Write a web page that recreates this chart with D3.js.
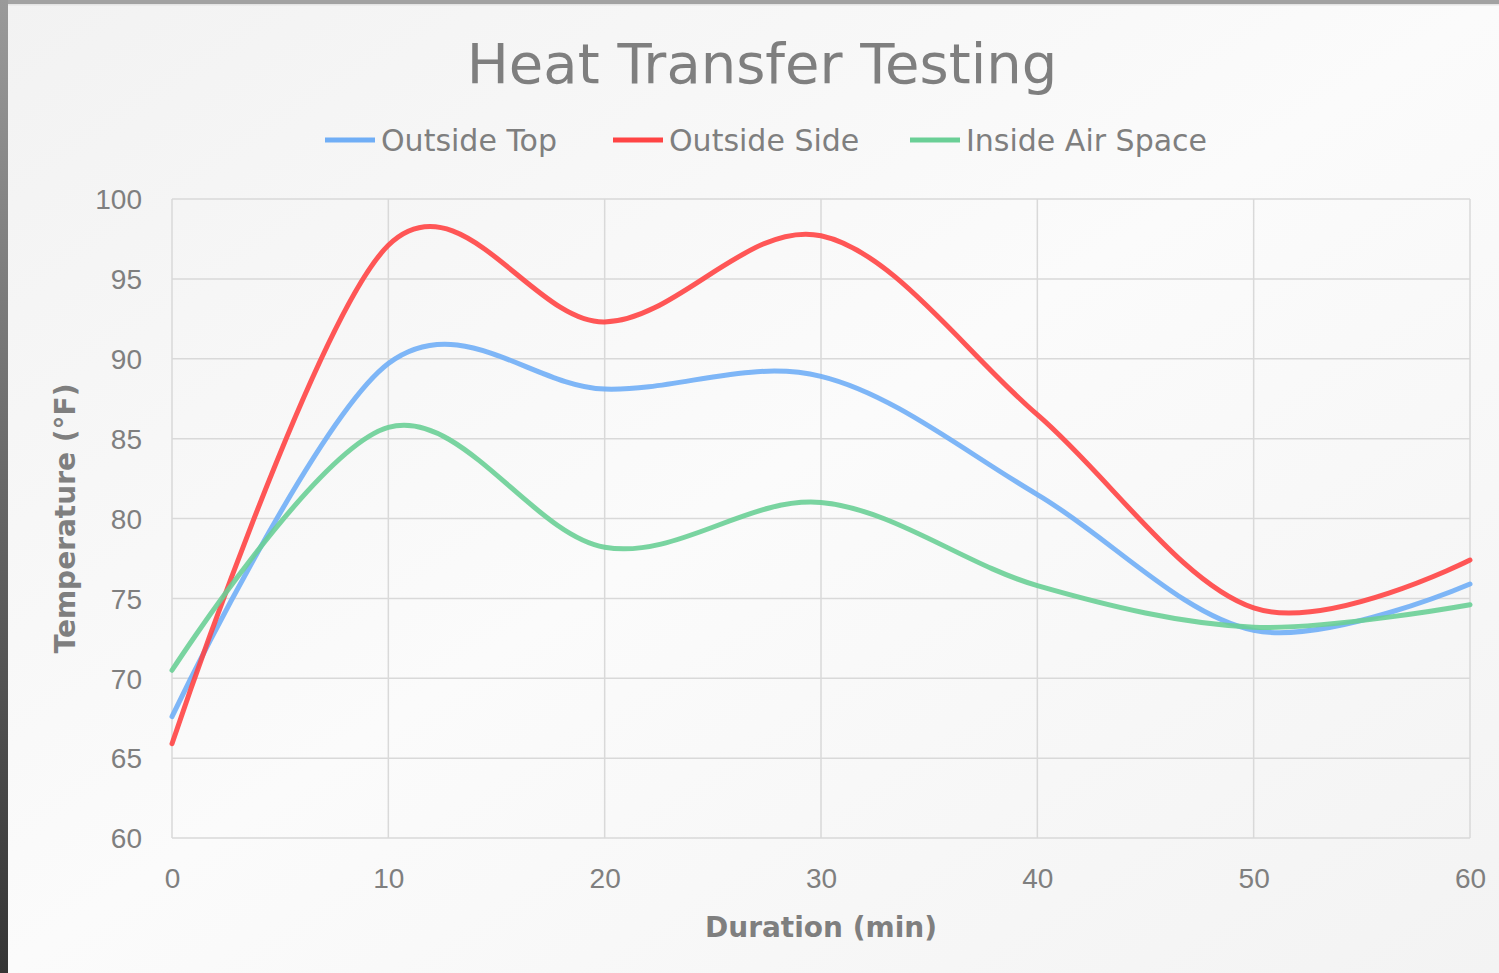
<!DOCTYPE html>
<html>
<head>
<meta charset="utf-8">
<script src="https://cdn.jsdelivr.net/npm/d3@7"></script>
<style>
  html, body { margin: 0; padding: 0; background: #f4f4f4; overflow: hidden; }
  svg { display: block; font-family: "DejaVu Sans", "Noto Sans", sans-serif; }
</style>
</head>
<body>
<svg id="chart"></svg>
<script>
// 데이터
const minutes = [0, 10, 20, 30, 40, 50, 60];
const outsideTop = [67.6, 89.7, 88.1, 88.9, 81.5, 73.0, 75.9];
const outsideSide = [65.9, 97.1, 92.3, 97.7, 86.5, 74.4, 77.4];
const insideAir = [70.5, 85.7, 78.2, 81.0, 75.8, 73.2, 74.6];
const seriesNames = ["Outside Top", "Outside Side", "Inside Air Space"];
const seriesColors = ["#70aef6", "#ff4444", "#6acf96"];
const yTicks = [60, 65, 70, 75, 80, 85, 90, 95, 100];
const xTicks = [0, 10, 20, 30, 40, 50, 60];

const width = 1499, height = 973;
const svg = d3.select("#chart").attr("width", width).attr("height", height);

// 배경
const defs = svg.append("defs");
const bg = defs.append("linearGradient").attr("id", "bg")
  .attr("x1", "0").attr("y1", "0").attr("x2", "1").attr("y2", "1");
bg.append("stop").attr("offset", "0").attr("stop-color", "#f2f2f2");
bg.append("stop").attr("offset", "0.5").attr("stop-color", "#fbfbfb");
bg.append("stop").attr("offset", "1").attr("stop-color", "#f3f3f3");
const edge = defs.append("linearGradient").attr("id", "edge")
  .attr("x1", "0").attr("y1", "0").attr("x2", "0").attr("y2", "1");
edge.append("stop").attr("offset", "0").attr("stop-color", "#9a9a9a");
edge.append("stop").attr("offset", "1").attr("stop-color", "#353535");

svg.append("rect").attr("width", width).attr("height", height).attr("fill", "url(#bg)");
svg.append("rect").attr("x", 0).attr("y", 0).attr("width", width).attr("height", 4).attr("fill", "#a2a2a2");
svg.append("rect").attr("x", 8).attr("y", 4).attr("width", width).attr("height", 1.5).attr("fill", "#e4e4e4");
svg.append("rect").attr("x", 0).attr("y", 0).attr("width", 8).attr("height", height).attr("fill", "url(#edge)");

const margin = { top: 199, right: 29, bottom: 135, left: 172 };
const x = d3.scaleLinear([0, 60], [margin.left, width - margin.right]);
const y = d3.scaleLinear([60, 100], [height - margin.bottom, margin.top]);

const textColor = "#7f7f7f";
const gridColor = "#d9d9d9";

// 그리드
svg.append("g")
  .selectAll("line")
  .data(yTicks)
  .join("line")
  .attr("x1", x(0)).attr("x2", x(60))
  .attr("y1", d => y(d)).attr("y2", d => y(d))
  .attr("stroke", gridColor).attr("stroke-width", 1.5);
svg.append("g")
  .selectAll("line")
  .data(xTicks)
  .join("line")
  .attr("x1", d => x(d)).attr("x2", d => x(d))
  .attr("y1", y(60)).attr("y2", y(100))
  .attr("stroke", gridColor).attr("stroke-width", 1.5);

// 축 라벨
const yAxis = d3.axisLeft(y).tickValues(yTicks).tickSize(0).tickPadding(30);
svg.append("g")
  .attr("transform", `translate(${x(0)},0)`)
  .call(yAxis)
  .call(g => g.select(".domain").remove())
  .call(g => g.selectAll("text").attr("fill", textColor).attr("font-size", 28).attr("dy", "0.35em"));

const xAxis = d3.axisBottom(x).tickValues(xTicks).tickSize(0).tickPadding(30);
svg.append("g")
  .attr("transform", `translate(0,${y(60)})`)
  .call(xAxis)
  .call(g => g.select(".domain").remove())
  .call(g => g.selectAll("text").attr("fill", textColor).attr("font-size", 28));

// 선
const line = d3.line()
  .x((d, i) => x(minutes[i]))
  .y(d => y(d))
  .curve(d3.curveCardinal.tension(0));

const allSeries = [outsideTop, outsideSide, insideAir];
svg.append("g")
  .attr("fill", "none")
  .attr("stroke-width", 5)
  .attr("stroke-linecap", "round")
  .selectAll("path")
  .data(allSeries)
  .join("path")
  .attr("stroke", (d, i) => seriesColors[i])
  .attr("opacity", 0.9)
  .attr("d", d => line(d));

// 제목
svg.append("text")
  .attr("x", 762).attr("y", 83)
  .attr("text-anchor", "middle")
  .attr("fill", textColor)
  .attr("font-size", 56)
  .text("Heat Transfer Testing");

// 범례
const legendX = [325, 613, 910];
const legend = svg.append("g")
  .selectAll("g")
  .data(seriesNames)
  .join("g")
  .attr("transform", (d, i) => `translate(${legendX[i]},140)`);
legend.append("line")
  .attr("x1", 0).attr("x2", 50)
  .attr("stroke", (d, i) => seriesColors[i])
  .attr("stroke-width", 5);
legend.append("text")
  .attr("x", 56).attr("dy", "0.35em")
  .attr("fill", textColor)
  .attr("font-size", 30)
  .text(d => d);

// 축 제목
svg.append("text")
  .attr("x", x(30)).attr("y", 937)
  .attr("text-anchor", "middle")
  .attr("fill", textColor)
  .attr("font-size", 28)
  .attr("font-weight", "bold")
  .text("Duration (min)");

svg.append("text")
  .attr("transform", `translate(75,${y(80)}) rotate(-90)`)
  .attr("text-anchor", "middle")
  .attr("fill", textColor)
  .attr("font-size", 28)
  .attr("font-weight", "bold")
  .text("Temperature (°F)");
</script>
</body>
</html>
